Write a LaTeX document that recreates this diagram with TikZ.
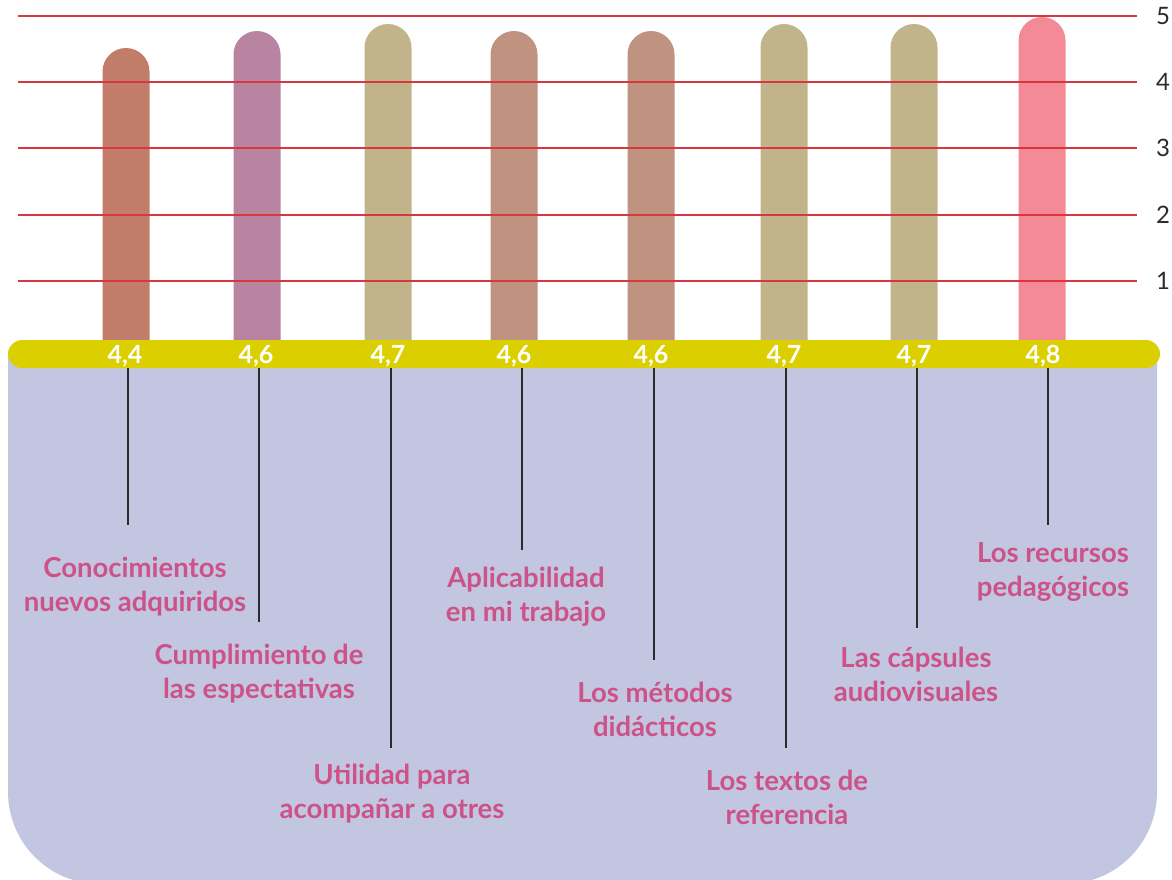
\documentclass[tikz,border=0pt]{standalone}
\usepackage{fontspec}
\setmainfont{Lato}
\usetikzlibrary{positioning}

\definecolor{barA}{HTML}{C27C6A}
\definecolor{barB}{HTML}{B884A2}
\definecolor{barC}{HTML}{C2B48A}
\definecolor{barD}{HTML}{C09381}
\definecolor{barE}{HTML}{F48A96}
\definecolor{bandyel}{HTML}{DCCF00}
\definecolor{lav}{HTML}{C2C6E1}
\definecolor{pinktxt}{HTML}{CC5288}
\definecolor{gridred}{HTML}{D9373F}
\definecolor{darkline}{HTML}{2B2B2B}

\begin{document}
\begin{tikzpicture}[x=1pt, y=-1pt,
    lbl/.style={text=pinktxt, font=\bfseries\fontsize{27.5}{34}\selectfont, align=center},
    val/.style={text=white, font=\bfseries\fontsize{25}{25}\selectfont},
    axnum/.style={text=darkline, font=\fontsize{24}{24}\selectfont},
    leader/.style={draw=darkline, line width=2pt}]
    \useasboundingbox (0,0) rectangle (1172,879);
    \clip (0,0) rectangle (1172,879);

    % lavender panel
    \fill[lav] (8,354) -- (1157,354) -- (1157,792)
      arc[start angle=0, end angle=90, radius=92] -- (100,884)
      arc[start angle=90, end angle=180, radius=92] -- cycle;

    % bars
    \foreach \x/\t/\c in {126/48/barA, 257/31/barB, 388/24/barC, 514/31/barD,
                          651/31/barD, 784/24/barC, 914/24/barC, 1042/17/barE}
      \fill[\c] (\x-23.5,345) -- (\x-23.5,\t+23.5)
        arc[start angle=180, end angle=360, radius=23.5] -- (\x+23.5,345) -- cycle;

    % grid
    \foreach \v/\y in {5/16, 4/82, 3/148, 2/215, 1/281} {
      \draw[gridred, line width=1.2pt] (18,\y) -- (1137,\y);
      \node[axnum] (t\v) at (1163,\y) {\v};
    }

    % band
    \fill[bandyel, rounded corners=14pt] (8,340) rectangle (1160,368);

    % values
    \node[val] (v1) at (125,356) {4,4};
    \node[val] (v2) at (256,356) {4,6};
    \node[val] (v3) at (388,356) {4,7};
    \node[val] (v4) at (514,356) {4,6};
    \node[val] (v5) at (651,356) {4,6};
    \node[val] (v6) at (784,356) {4,7};
    \node[val] (v7) at (914,356) {4,7};
    \node[val] (v8) at (1043,356) {4,8};

    % leader lines
    \coordinate (b1) at (128,368); \coordinate (e1) at (128,525);
    \coordinate (b2) at (259,368); \coordinate (e2) at (259,622);
    \coordinate (b3) at (391,368); \coordinate (e3) at (391,748);
    \coordinate (b4) at (522,368); \coordinate (e4) at (522,550);
    \coordinate (b5) at (654,368); \coordinate (e5) at (654,660);
    \coordinate (b6) at (786,368); \coordinate (e6) at (786,748);
    \coordinate (b7) at (917,368); \coordinate (e7) at (917,628);
    \coordinate (b8) at (1048,368); \coordinate (e8) at (1048,525);
    \foreach \i in {1,...,8}
      \draw[leader] (b\i) -- (e\i);

    % labels
    \node[lbl] (l1) at (135,587) {Conocimientos\\nuevos adquiridos};
    \node[lbl] (l2) at (259,674) {Cumplimiento de\\las espectativas};
    \node[lbl] (l3) at (392,794) {Utilidad para\\acompañar a otres};
    \node[lbl] (l4) at (526,597) {Aplicabilidad\\en mi trabajo};
    \node[lbl] (l5) at (655,709) {Los métodos\\didácticos};
    \node[lbl] (l6) at (787,797) {Los textos de\\referencia};
    \node[lbl] (l7) at (916,674) {Las cápsules\\audiovisuales};
    \node[lbl] (l8) at (1053,572) {Los recursos\\pedagógicos};
  \end{tikzpicture}
\end{document}
